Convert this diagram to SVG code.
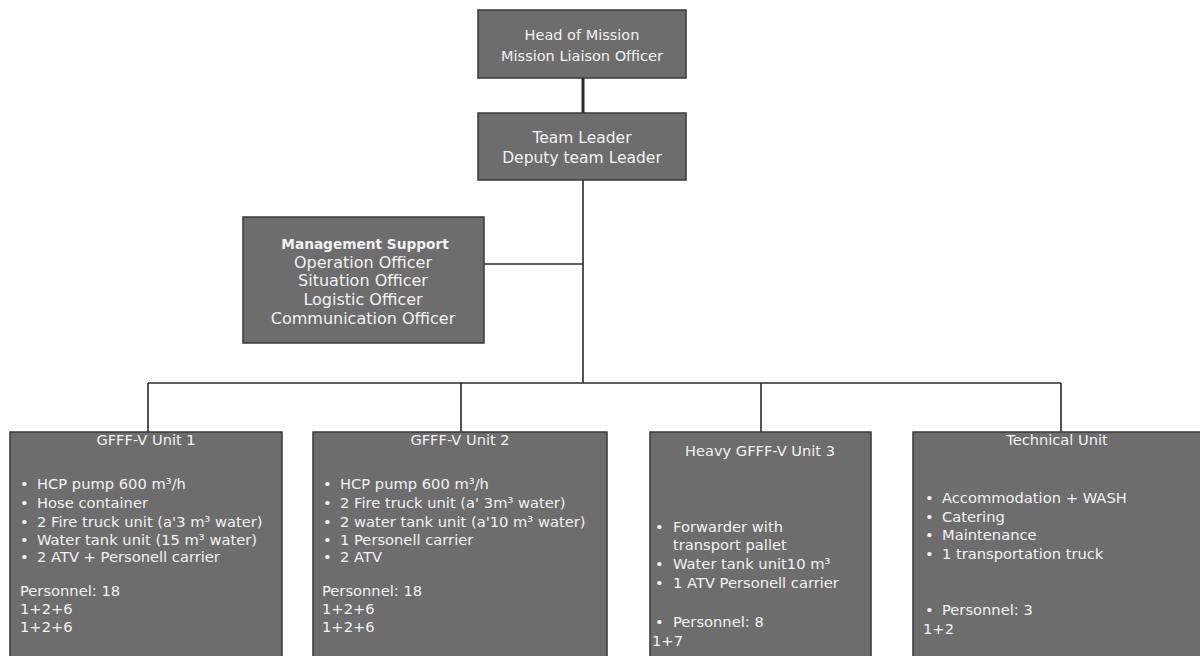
<svg xmlns="http://www.w3.org/2000/svg" width="1200" height="656" viewBox="0 0 1200 656">
<style>
.box{fill:#6d6d6d;stroke:#3a3a3a;stroke-width:1.5}
text{font-family:"DejaVu Sans","Liberation Sans",Arial,sans-serif;fill:#f2f2f2;font-size:14.7px}
.c{text-anchor:middle}
.t1{font-size:14.5px}
.t2{font-size:15.5px}
.m{font-size:16px}
.b{font-weight:bold;font-size:13.7px}
.tt{font-size:14.6px}
.ln{stroke:#2a2a2a;stroke-width:1.6;fill:none}
</style>
<rect width="1200" height="656" fill="#ffffff"/>
<g id="connectors">
<line class="ln" x1="583" y1="78" x2="583" y2="113" style="stroke-width:3"/>
<line class="ln" x1="583" y1="180" x2="583" y2="383"/>
<line class="ln" x1="484" y1="264" x2="583" y2="264"/>
<line class="ln" x1="148" y1="383" x2="1061" y2="383"/>
<line class="ln" x1="148" y1="383" x2="148" y2="432"/>
<line class="ln" x1="461" y1="383" x2="461" y2="432"/>
<line class="ln" x1="761" y1="383" x2="761" y2="432"/>
<line class="ln" x1="1061" y1="383" x2="1061" y2="432"/>
</g>
<g id="head">
<rect class="box" x="478" y="10" width="208" height="68"/>
<text class="c t1" x="582" y="40">Head of Mission</text>
<text class="c t1" x="582" y="61">Mission Liaison Officer</text>
</g>
<g id="teamleader">
<rect class="box" x="478" y="113" width="208" height="67"/>
<text class="c t2" x="582" y="143">Team Leader</text>
<text class="c t2" x="582" y="163">Deputy team Leader</text>
</g>
<g id="management">
<rect class="box" x="243" y="217" width="241" height="126"/>
<text class="c b" x="365" y="249">Management Support</text>
<text class="c m" x="363" y="268">Operation Officer</text>
<text class="c m" x="363" y="286">Situation Officer</text>
<text class="c m" x="363" y="305">Logistic Officer</text>
<text class="c m" x="363" y="324">Communication Officer</text>
</g>
<g id="unit1">
<rect class="box" x="10" y="432" width="272" height="230"/>
<text class="c tt" x="146" y="445">GFFF-V Unit 1</text>
<text x="20" y="489">•</text><text x="37" y="489">HCP pump 600 m³/h</text>
<text x="20" y="508">•</text><text x="37" y="508">Hose container</text>
<text x="20" y="527">•</text><text x="37" y="527">2 Fire truck unit (a'3 m³ water)</text>
<text x="20" y="545">•</text><text x="37" y="545">Water tank unit (15 m³ water)</text>
<text x="20" y="562">•</text><text x="37" y="562">2 ATV + Personell carrier</text>
<text x="20" y="596">Personnel: 18</text>
<text x="20" y="614">1+2+6</text>
<text x="20" y="632">1+2+6</text>
</g>
<g id="unit2">
<rect class="box" x="313" y="432" width="294" height="230"/>
<text class="c tt" x="460" y="445">GFFF-V Unit 2</text>
<text x="323" y="489">•</text><text x="340" y="489">HCP pump 600 m³/h</text>
<text x="323" y="508">•</text><text x="340" y="508">2 Fire truck unit (a' 3m³ water)</text>
<text x="323" y="527">•</text><text x="340" y="527">2 water tank unit (a'10 m³ water)</text>
<text x="323" y="545">•</text><text x="340" y="545">1 Personell carrier</text>
<text x="323" y="562">•</text><text x="340" y="562">2 ATV</text>
<text x="322" y="596">Personnel: 18</text>
<text x="322" y="614">1+2+6</text>
<text x="322" y="632">1+2+6</text>
</g>
<g id="unit3">
<rect class="box" x="650" y="432" width="221" height="230"/>
<text class="c tt" x="760" y="456">Heavy GFFF-V Unit 3</text>
<text x="655" y="532">•</text><text x="673" y="532">Forwarder with</text>
<text x="673" y="550">transport pallet</text>
<text x="655" y="569">•</text><text x="673" y="569">Water tank unit10 m³</text>
<text x="655" y="588">•</text><text x="673" y="588">1 ATV Personell carrier</text>
<text x="655" y="627">•</text><text x="673" y="627">Personnel: 8</text>
<text x="652" y="646">1+7</text>
</g>
<g id="technical">
<rect class="box" x="913" y="432" width="300" height="230"/>
<text class="c tt" x="1057" y="445">Technical Unit</text>
<text x="925" y="503">•</text><text x="942" y="503">Accommodation + WASH</text>
<text x="925" y="522">•</text><text x="942" y="522">Catering</text>
<text x="925" y="540">•</text><text x="942" y="540">Maintenance</text>
<text x="925" y="559">•</text><text x="942" y="559">1 transportation truck</text>
<text x="925" y="615">•</text><text x="942" y="615">Personnel: 3</text>
<text x="923" y="634">1+2</text>
</g>
</svg>
